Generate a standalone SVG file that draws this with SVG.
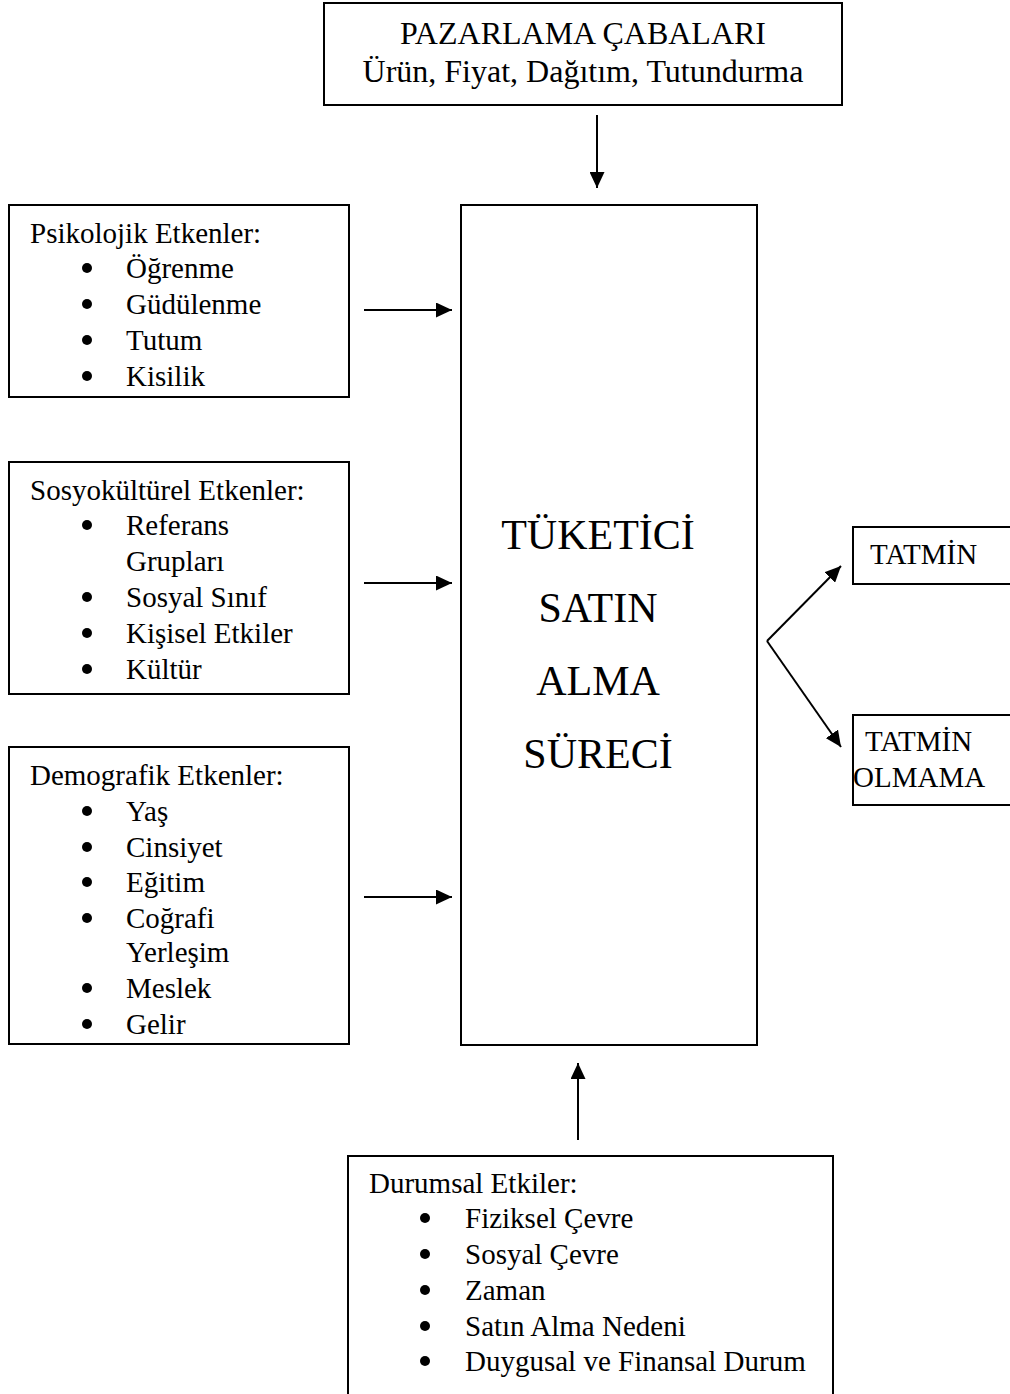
<svg xmlns="http://www.w3.org/2000/svg" width="1010" height="1394" viewBox="0 0 1010 1394">
  <style>
    .box { fill: #ffffff; stroke: #000000; stroke-width: 2; }
    .t { font-family: "Liberation Serif", "Times New Roman", serif; font-size: 29px; fill: #000000; }
    .big { font-family: "Liberation Serif", "Times New Roman", serif; font-size: 42px; fill: #000000; text-anchor: middle; }
    .head { font-family: "Liberation Serif", "Times New Roman", serif; font-size: 32px; fill: #000000; text-anchor: middle; }
    .dot { fill: #000000; }
    .link { stroke: #000000; stroke-width: 2; fill: none; marker-end: url(#arrow); }
  </style>
  <defs>
    <marker id="arrow" viewBox="0 0 16 15" refX="16" refY="7.5" markerWidth="16" markerHeight="15" markerUnits="userSpaceOnUse" orient="auto">
      <path d="M0,0 L16,7.5 L0,15 Z" fill="#000000"/>
    </marker>
  </defs>
  <rect width="1010" height="1394" fill="#ffffff"/>

  <!-- marketing efforts -->
  <g id="pazarlama">
    <rect class="box" x="324" y="3" width="518" height="102"/>
    <text class="head" x="583" y="44">PAZARLAMA ÇABALARI</text>
    <text class="head" x="583" y="82">Ürün, Fiyat, Dağıtım, Tutundurma</text>
  </g>

  <!-- central process -->
  <g id="surec">
    <rect class="box" x="461" y="205" width="296" height="840"/>
    <text class="big" x="598" y="549">TÜKETİCİ</text>
    <text class="big" x="598" y="622">SATIN</text>
    <text class="big" x="598" y="695">ALMA</text>
    <text class="big" x="598" y="768">SÜRECİ</text>
  </g>

  <!-- psychological factors -->
  <g id="psikolojik">
    <rect class="box" x="9" y="205" width="340" height="192"/>
    <text class="t" x="30" y="243">Psikolojik Etkenler:</text>
    <circle class="dot" cx="87" cy="268" r="5"/>
    <circle class="dot" cx="87" cy="304" r="5"/>
    <circle class="dot" cx="87" cy="340" r="5"/>
    <circle class="dot" cx="87" cy="376" r="5"/>
    <text class="t" x="126" y="278">Öğrenme</text>
    <text class="t" x="126" y="314">Güdülenme</text>
    <text class="t" x="126" y="350">Tutum</text>
    <text class="t" x="126" y="386">Kisilik</text>
  </g>

  <!-- sociocultural factors -->
  <g id="sosyokulturel">
    <rect class="box" x="9" y="462" width="340" height="232"/>
    <text class="t" x="30" y="500">Sosyokültürel Etkenler:</text>
    <circle class="dot" cx="87" cy="525" r="5"/>
    <circle class="dot" cx="87" cy="597" r="5"/>
    <circle class="dot" cx="87" cy="633" r="5"/>
    <circle class="dot" cx="87" cy="669" r="5"/>
    <text class="t" x="126" y="535">Referans</text>
    <text class="t" x="126" y="571">Grupları</text>
    <text class="t" x="126" y="607">Sosyal Sınıf</text>
    <text class="t" x="126" y="643">Kişisel Etkiler</text>
    <text class="t" x="126" y="679">Kültür</text>
  </g>

  <!-- demographic factors -->
  <g id="demografik">
    <rect class="box" x="9" y="747" width="340" height="297"/>
    <text class="t" x="30" y="785">Demografik Etkenler:</text>
    <circle class="dot" cx="87" cy="811" r="5"/>
    <circle class="dot" cx="87" cy="847" r="5"/>
    <circle class="dot" cx="87" cy="882" r="5"/>
    <circle class="dot" cx="87" cy="918" r="5"/>
    <circle class="dot" cx="87" cy="988" r="5"/>
    <circle class="dot" cx="87" cy="1024" r="5"/>
    <text class="t" x="126" y="821">Yaş</text>
    <text class="t" x="126" y="857">Cinsiyet</text>
    <text class="t" x="126" y="892">Eğitim</text>
    <text class="t" x="126" y="928">Coğrafi</text>
    <text class="t" x="126" y="962">Yerleşim</text>
    <text class="t" x="126" y="998">Meslek</text>
    <text class="t" x="126" y="1034">Gelir</text>
  </g>

  <!-- situational influences -->
  <g id="durumsal">
    <rect class="box" x="348" y="1156" width="485" height="250"/>
    <text class="t" x="369" y="1193">Durumsal Etkiler:</text>
    <circle class="dot" cx="425" cy="1218" r="5"/>
    <circle class="dot" cx="425" cy="1254" r="5"/>
    <circle class="dot" cx="425" cy="1290" r="5"/>
    <circle class="dot" cx="425" cy="1326" r="5"/>
    <circle class="dot" cx="425" cy="1361" r="5"/>
    <text class="t" x="465" y="1228">Fiziksel Çevre</text>
    <text class="t" x="465" y="1264">Sosyal Çevre</text>
    <text class="t" x="465" y="1300">Zaman</text>
    <text class="t" x="465" y="1336">Satın Alma Nedeni</text>
    <text class="t" x="465" y="1371">Duygusal ve Finansal Durum</text>
  </g>

  <!-- outcomes -->
  <g id="tatmin">
    <rect class="box" x="853" y="527" width="170" height="57"/>
    <text class="t" x="870" y="564">TATMİN</text>
  </g>
  <g id="tatmin-olmama">
    <rect class="box" x="853" y="715" width="170" height="90"/>
    <text class="t" x="865" y="751">TATMİN</text>
    <text class="t" x="853" y="787">OLMAMA</text>
  </g>

  <!-- connectors -->
  <g id="connectors">
    <line class="link" x1="597" y1="115" x2="597" y2="188"/>
    <line class="link" x1="364" y1="310" x2="452" y2="310"/>
    <line class="link" x1="364" y1="583" x2="452" y2="583"/>
    <line class="link" x1="364" y1="897" x2="452" y2="897"/>
    <line class="link" x1="578" y1="1140" x2="578" y2="1063"/>
    <line class="link" x1="767" y1="641" x2="841" y2="566"/>
    <line class="link" x1="767" y1="641" x2="841" y2="747"/>
  </g>
</svg>
